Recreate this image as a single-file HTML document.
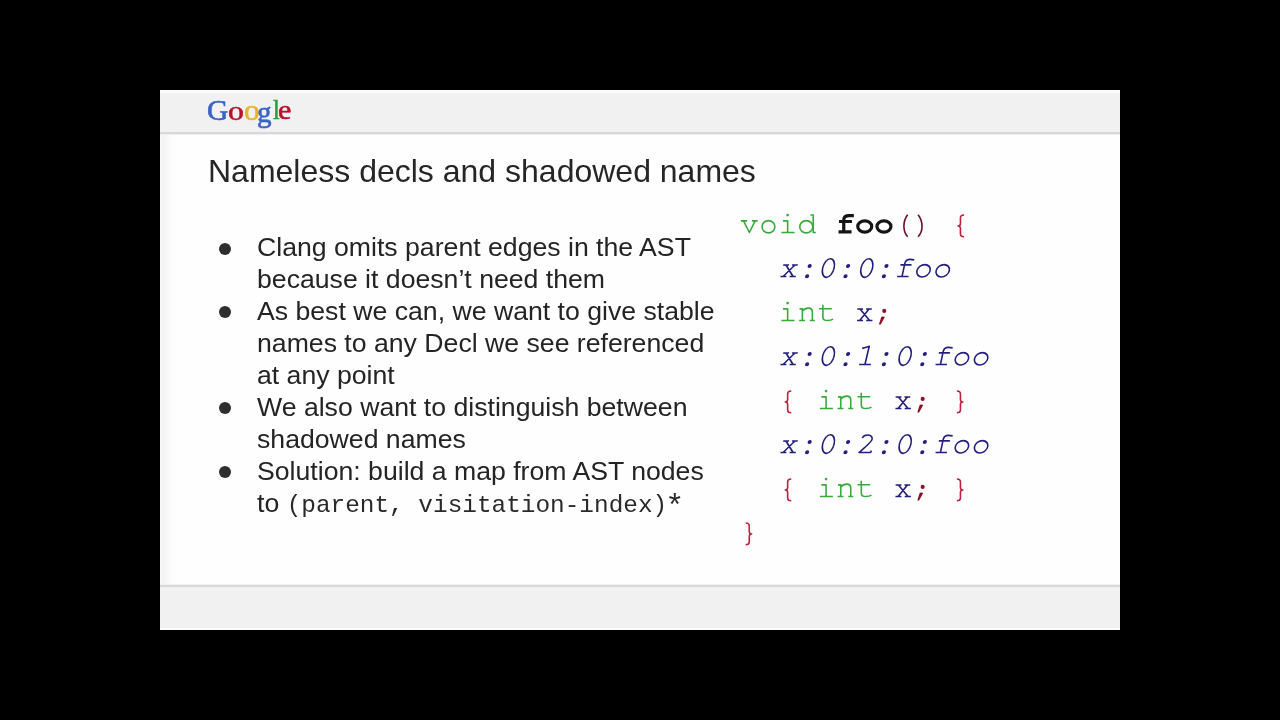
<!DOCTYPE html>
<html><head><meta charset="utf-8">
<style>
html,body{margin:0;padding:0;background:#000;width:1280px;height:720px;overflow:hidden;}
#slide{position:absolute;left:160px;top:90px;width:960px;height:540px;background:linear-gradient(to right,#fcfcfc 0,#f3f3f3 2px,#f7f7f7 6px,#fdfdfd 12px,#fefefe 20px);overflow:hidden;will-change:transform;}
#hdr{position:absolute;left:0;top:0;width:960px;height:42px;background:#f1f1f1;box-shadow:inset 0 3px 0 #fbfbfb;}
#hline{position:absolute;left:0;top:42px;width:960px;height:2px;background:#d8d8d8;box-shadow:0 1px 0 #eeeeee;}
#ftr{position:absolute;left:0;top:497px;width:960px;height:43px;background:#f1f1f1;box-shadow:inset 0 -2px 0 #fafafa;}
#fline{position:absolute;left:0;top:495px;width:960px;height:2px;background:#d9d9d9;box-shadow:0 -1px 0 #f2f2f2;}
#logo{position:absolute;left:0;top:0.2px;}
#logo span{position:absolute;font-family:"Liberation Serif",serif;font-weight:normal;font-size:30px;line-height:1;transform-origin:0 0;white-space:pre;-webkit-text-stroke:0.6px currentColor;}
.title{position:absolute;left:48px;top:60.6px;font-family:"Liberation Sans",sans-serif;font-size:32px;color:#262626;white-space:nowrap;line-height:40px;}
.txt{position:absolute;left:97px;font-family:"Liberation Sans",sans-serif;font-size:26.65px;color:#242424;white-space:nowrap;line-height:31.9px;}
.bul{position:absolute;left:58.5px;width:12px;height:12px;border-radius:50%;background:#2e2e2e;}
.mono{font-family:"Liberation Mono",monospace;font-size:24.4px;color:#2a2a2a;position:relative;top:0.8px;}
</style></head>
<body>
<div id="slide">
  <div id="hdr"></div>
  <div id="hline"></div>
  <div id="fline"></div>
  <div id="ftr"></div>
  <div id="logo">
<span style="left:46.87px;top:5.29px;color:#3b62c6;transform:scale(0.983,1.002)">G</span>
<span style="left:68.30px;top:6.49px;color:#b7122c;transform:scale(1.061,0.917)">o</span>
<span style="left:84.31px;top:5.63px;color:#e6b52e;transform:scale(1.042,0.950)">o</span>
<span style="left:97.48px;top:7.55px;color:#3b62c6;transform:scale(0.971,0.962)">g</span>
<span style="left:112.51px;top:5.99px;color:#2b9a3c;transform:scale(0.801,0.927)">l</span>
<span style="left:118.35px;top:6.06px;color:#b7122c;transform:scale(1.004,0.933)">e</span>
</div>
  <div class="title">Nameless decls and shadowed names</div>

  <div class="bul" style="top:152.6px"></div>
  <div class="txt" style="top:142.4px">Clang omits parent edges in the AST<br>because it doesn’t need them</div>
  <div class="bul" style="top:216.4px"></div>
  <div class="txt" style="top:206.2px">As best we can, we want to give stable<br>names to any Decl we see referenced<br>at any point</div>
  <div class="bul" style="top:312.1px"></div>
  <div class="txt" style="top:301.9px">We also want to distinguish between<br>shadowed names</div>
  <div class="bul" style="top:375.9px"></div>
  <div class="txt" style="top:365.7px">Solution: build a map from AST nodes<br>to <span class="mono">(parent, visitation-index)<span style="display:inline-block;transform:scale(1.3);transform-origin:40% 30%">*</span></span></div>

</div>
<!--CODE-->
<svg id="code" width="1280" height="720" viewBox="0 0 1280 720" style="position:absolute;left:0;top:0" fill="none" stroke="currentColor" stroke-width="1.6" stroke-linecap="butt" stroke-linejoin="round"><defs><g id="g0"><path d="M1.2 -12.5H7.6M12.2 -12.5H18M3.9 -12.5L9.7 -0.9L15.5 -12.5"/></g><g id="g1"><ellipse cx="9.6" cy="-6.65" rx="6.4" ry="6.15"/></g><g id="g2"><path d="M4.9 -12.5H9.6V-0.85M3.4 -0.85H16.5"/><circle cx="9.6" cy="-18.3" r="1.35" stroke="none" fill="currentColor"/></g><g id="g3"><path d="M13.2 -18.35H16V-0.85H18.6"/><ellipse cx="9" cy="-6.65" rx="6.5" ry="6.15"/></g><g id="g4"><path d="M3.3 -11.9H16.3M2.9 -1.5H15.9M8.1 -1.5V-13.5C8.1 -16.9 10.5 -17.8 13.5 -17.8H18.2" stroke-width="3.2"/></g><g id="g5"><ellipse cx="9.9" cy="-6.9" rx="7.0" ry="5.6" stroke-width="3.2"/></g><g id="g6"><path d="M14.4 -18.6C9.4 -12 9.4 -2 14.4 3.4"/></g><g id="g7"><path d="M5.6 -18.6C10.9 -12 10.9 -2 5.6 3.4"/></g><g id="g8"><path d="M13.2 -18.4C10.5 -18.4 9.6 -17.5 9.6 -15.5V-10C9.6 -8.2 8.8 -7.4 7.2 -7.4C8.8 -7.4 9.6 -6.6 9.6 -4.8V0.6C9.6 2.6 10.5 3.3 13.2 3.3"/></g><g id="g9"><g transform="skewX(-12.4)"><path d="M2.4 -12.45H8.2M11.2 -12.45H17M2.2 -0.85H8.2M11.4 -0.85H17.6M5.2 -12.45L14.8 -0.85M14.2 -12.45L4.8 -0.85"/></g></g><g id="g10"><g transform="skewX(-12.4)" stroke="none" fill="currentColor"><circle cx="9.9" cy="-11.4" r="2.05"/><circle cx="9.6" cy="-1.1" r="2.05"/></g></g><g id="g11"><g transform="skewX(-12.4)"><ellipse cx="9.9" cy="-9.3" rx="5.75" ry="9.3"/></g></g><g id="g12"><path d="M8.75 -0.85L11.6 -14C12.3 -17 14 -18 16.6 -18C18.2 -18 19.8 -17.8 21 -17.5M7.2 -12.55H18.3M3.9 -0.85H15.3"/></g><g id="g13"><g transform="skewX(-12.4)"><ellipse cx="9.6" cy="-6.6" rx="6.6" ry="6.2"/></g></g><g id="g14"><path d="M2.3 -12.55H5.1V-0.85M1.9 -0.85H7.8M12.6 -0.85H17.6M15.1 -0.85V-9.6C15.1 -12.2 13.6 -13.3 11.2 -13.3C8.6 -13.3 6.4 -12 5.1 -10.4"/></g><g id="g15"><path d="M6.45 -16.6V-4.2C6.45 -1.6 8.2 -0.85 11 -0.85C13.3 -0.85 15.3 -1.3 16.6 -2.2M2.6 -12.6H15.3"/></g><g id="g16"><path d="M2.4 -12.45H8.2M11.2 -12.45H17M2.2 -0.85H8.2M11.4 -0.85H17.6M5.2 -12.45L14.8 -0.85M14.2 -12.45L4.8 -0.85"/></g><g id="g17"><circle cx="10.2" cy="-10.5" r="2.05" stroke="none" fill="currentColor"/><path d="M7.3 -4.6Q9.1 -5.2 10.8 -4.5L6.7 3.2L4.8 3.2Z" stroke="none" fill="currentColor"/></g><g id="g18"><path d="M7.35 -17C9.8 -17.6 12.2 -18.4 14.4 -19.2L10.1 -0.85M4.3 -0.85H16"/></g><g id="g19"><path d="M6 -18.4C8.7 -18.4 9.6 -17.5 9.6 -15.5V-10C9.6 -8.2 10.4 -7.4 12 -7.4C10.4 -7.4 9.6 -6.6 9.6 -4.8V0.6C9.6 2.6 8.7 3.3 6 3.3"/></g><g id="g20"><path d="M7.4 -15.4C8.4 -17.4 10.4 -18.4 12.8 -18.4C15.6 -18.4 17.6 -16.8 17.3 -14.4C17 -11.6 13 -8.6 4.2 -0.85H15.8L16.6 -2.8"/></g></defs><use href="#g0" x="739.65" y="233.40" style="color:#38aa3c"/><use href="#g1" x="758.85" y="233.40" style="color:#38aa3c"/><use href="#g2" x="778.05" y="233.40" style="color:#38aa3c"/><use href="#g3" x="797.25" y="233.40" style="color:#38aa3c"/><use href="#g4" x="835.65" y="233.40" style="color:#141414"/><use href="#g5" x="854.85" y="233.40" style="color:#141414"/><use href="#g5" x="874.05" y="233.40" style="color:#141414"/><use href="#g6" x="893.25" y="233.40" style="color:#6c1028"/><use href="#g7" x="912.45" y="233.40" style="color:#6c1028"/><use href="#g8" x="950.85" y="233.40" style="color:#c02040"/><use href="#g9" x="778.05" y="277.40" style="color:#22207c"/><use href="#g10" x="797.25" y="277.40" style="color:#22207c"/><use href="#g11" x="816.45" y="277.40" style="color:#22207c"/><use href="#g10" x="835.65" y="277.40" style="color:#22207c"/><use href="#g11" x="854.85" y="277.40" style="color:#22207c"/><use href="#g10" x="874.05" y="277.40" style="color:#22207c"/><use href="#g12" x="893.25" y="277.40" style="color:#22207c"/><use href="#g13" x="912.45" y="277.40" style="color:#22207c"/><use href="#g13" x="931.65" y="277.40" style="color:#22207c"/><use href="#g2" x="778.05" y="321.40" style="color:#38aa3c"/><use href="#g14" x="797.25" y="321.40" style="color:#38aa3c"/><use href="#g15" x="816.45" y="321.40" style="color:#38aa3c"/><use href="#g16" x="854.85" y="321.40" style="color:#22207c"/><use href="#g17" x="874.05" y="321.40" style="color:#8a1424"/><use href="#g9" x="778.05" y="365.40" style="color:#22207c"/><use href="#g10" x="797.25" y="365.40" style="color:#22207c"/><use href="#g11" x="816.45" y="365.40" style="color:#22207c"/><use href="#g10" x="835.65" y="365.40" style="color:#22207c"/><use href="#g18" x="854.85" y="365.40" style="color:#22207c"/><use href="#g10" x="874.05" y="365.40" style="color:#22207c"/><use href="#g11" x="893.25" y="365.40" style="color:#22207c"/><use href="#g10" x="912.45" y="365.40" style="color:#22207c"/><use href="#g12" x="931.65" y="365.40" style="color:#22207c"/><use href="#g13" x="950.85" y="365.40" style="color:#22207c"/><use href="#g13" x="970.05" y="365.40" style="color:#22207c"/><use href="#g8" x="778.05" y="409.40" style="color:#c02040"/><use href="#g2" x="816.45" y="409.40" style="color:#38aa3c"/><use href="#g14" x="835.65" y="409.40" style="color:#38aa3c"/><use href="#g15" x="854.85" y="409.40" style="color:#38aa3c"/><use href="#g16" x="893.25" y="409.40" style="color:#22207c"/><use href="#g17" x="912.45" y="409.40" style="color:#8a1424"/><use href="#g19" x="950.85" y="409.40" style="color:#c02040"/><use href="#g9" x="778.05" y="453.40" style="color:#22207c"/><use href="#g10" x="797.25" y="453.40" style="color:#22207c"/><use href="#g11" x="816.45" y="453.40" style="color:#22207c"/><use href="#g10" x="835.65" y="453.40" style="color:#22207c"/><use href="#g20" x="854.85" y="453.40" style="color:#22207c"/><use href="#g10" x="874.05" y="453.40" style="color:#22207c"/><use href="#g11" x="893.25" y="453.40" style="color:#22207c"/><use href="#g10" x="912.45" y="453.40" style="color:#22207c"/><use href="#g12" x="931.65" y="453.40" style="color:#22207c"/><use href="#g13" x="950.85" y="453.40" style="color:#22207c"/><use href="#g13" x="970.05" y="453.40" style="color:#22207c"/><use href="#g8" x="778.05" y="497.40" style="color:#c02040"/><use href="#g2" x="816.45" y="497.40" style="color:#38aa3c"/><use href="#g14" x="835.65" y="497.40" style="color:#38aa3c"/><use href="#g15" x="854.85" y="497.40" style="color:#38aa3c"/><use href="#g16" x="893.25" y="497.40" style="color:#22207c"/><use href="#g17" x="912.45" y="497.40" style="color:#8a1424"/><use href="#g19" x="950.85" y="497.40" style="color:#c02040"/><use href="#g19" x="739.65" y="541.40" style="color:#c02040"/></svg>
<!--/CODE-->
</body></html>
